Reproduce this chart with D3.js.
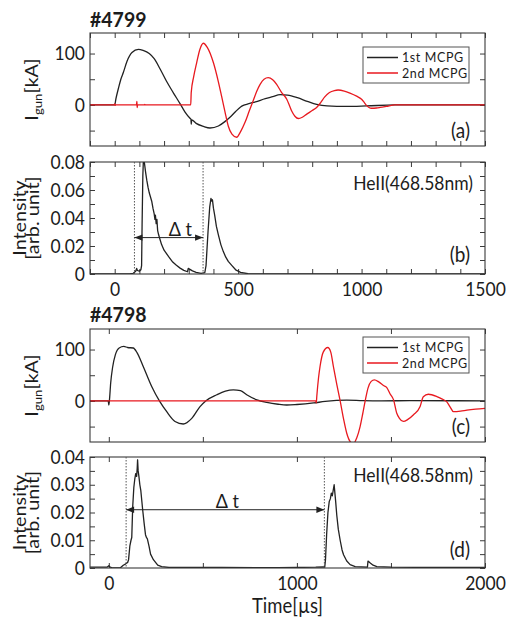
<!DOCTYPE html>
<html><head><meta charset="utf-8">
<script src="https://cdn.jsdelivr.net/npm/d3@7"></script>
<style>
body{margin:0;background:#fff}
svg{display:block}
text{font-family:Lato,"Open Sans",sans-serif;fill:#1c1c1c}
</style>
</head><body>
<svg id="chart" width="510" height="619"></svg>
<script>
// ---------------- data ----------------
const shotTitles = ["#4799", "#4798"];
const seriesNames = ["1st MCPG", "2nd MCPG"];
const lineLabel = "HeII(468.58nm)";
const panelLetters = ["(a)", "(b)", "(c)", "(d)"];
const xAxisTitle = "Time[\u00b5s]";

// #4799 gun current [kA] vs time [us]
const gun4799First = [[-100,0],[0,0],[5,12],[15,32],[25,50],[35,63],[50,85],[70,102],[96,108],[115,106],[140,100],[160,90],[184,70],[210,46],[237,24],[264,3],[285,-14],[305,-26],[309,-28],[310,-38],[312,-29],[330,-36],[360,-42],[386,-45],[420,-41],[445,-33],[467,-24],[490,-13],[510,-4],[521,-1],[540,2],[570,6],[610,12],[640,16],[670,20],[700,19],[740,14],[780,7],[818,1],[860,-2],[940,-3],[1020,-2],[1135,0],[1500,0]];
const gun4799Second = [[-100,0],[-2,0],[0,2],[2,-1],[4,0],[88,0],[90,7],[91,-5],[93,0],[120,0],[122,1],[124,0],[305,0],[308,0],[310,24],[320,55],[332,82],[345,108],[359,120],[375,112],[400,82],[420,45],[433,17],[447,-14],[460,-41],[475,-57],[494,-63],[510,-52],[528,-34],[545,-12],[561,8],[575,26],[589,40],[605,50],[622,53],[640,49],[656,40],[675,25],[697,11],[707,0],[717,-12],[730,-22],[744,-26.5],[760,-24],[778,-18],[800,-11],[818,-5],[835,5],[850,15],[870,24],[890,28],[905,29],[930,27],[953,23],[980,17],[1000,11],[1012,4],[1020,-1],[1030,-5],[1041,-6.5],[1060,-6],[1075,-5],[1100,-3],[1135,0],[1500,0]];
// #4799 HeII intensity
const heII4799 = [[-100,0],[60,0],[75,0.0005],[85,0.002],[89,0.004],[92,0.0025],[100,0.002],[106,0.003],[109,0.006],[111,0.035],[114,0.07],[117,0.085],[120,0.08],[125,0.073],[130,0.067],[135,0.062],[140,0.058],[145,0.055],[150,0.052],[155,0.047],[160,0.043],[163,0.039],[165,0.042],[168,0.036],[171,0.039],[174,0.031],[178,0.028],[183,0.025],[190,0.021],[200,0.017],[210,0.0145],[220,0.012],[235,0.0085],[250,0.0062],[265,0.0042],[280,0.0026],[295,0.0016],[298,0.004],[303,0.0035],[315,0.0022],[330,0.0012],[350,0.0005],[365,0.001],[370,0.006],[378,0.03],[385,0.048],[390,0.054],[393,0.052],[396,0.053],[400,0.047],[405,0.042],[412,0.034],[420,0.028],[430,0.021],[440,0.016],[450,0.012],[460,0.009],[475,0.006],[490,0.003],[510,0.0012],[540,0.0002],[600,0],[1500,0]];

// #4798 gun current
const gun4798First = [[-100,0],[-3,0],[0,-8],[3,0],[10,35],[20,65],[35,90],[55,103],[80,106],[100,104],[130,103],[150,94],[183,67],[228,28],[269,0],[308,-21],[352,-40],[396,-45],[441,-34],[485,-11],[515,0],[574,12],[620,19],[662,21.5],[700,20],[733,12],[787,2],[840,-3],[900,-6.5],[946,-8],[1000,-7],[1089,-4],[1150,-1],[1265,1.5],[1350,0.5],[1450,0],[1600,0.5],[2000,0]];
const gun4798Second = [[-100,0],[1100,0],[1103,-4],[1106,10],[1115,45],[1123,67],[1140,95],[1164,104],[1180,95],[1194,67],[1212,32],[1230,0],[1248,-35],[1265,-63],[1285,-80],[1301,-83],[1318,-72],[1336,-50],[1350,-25],[1363,0],[1378,25],[1395,38],[1412,41],[1435,37],[1460,30],[1478,26],[1495,14],[1514,2],[1531,-24],[1545,-34],[1566,-40],[1590,-36],[1620,-27],[1655,-11],[1672,8],[1699,13],[1744,8.5],[1770,4],[1797,-2],[1815,-12],[1832,-21],[1870,-20],[1904,-18],[1950,-16],[2000,-14.5]];
// #4798 HeII intensity
const heII4798 = [[-100,0.0003],[-10,0.0003],[0,0.0008],[5,0.0004],[20,0],[60,0],[77,0.001],[90,0.0015],[100,0.002],[105,0.003],[112,0.008],[118,0.01],[122,0.011],[127,0.022],[133,0.029],[138,0.032],[143,0.034],[148,0.033],[151,0.036],[153,0.039],[156,0.035],[160,0.033],[165,0.03],[170,0.028],[180,0.021],[188,0.016],[195,0.012],[200,0.011],[205,0.0105],[214,0.0078],[222,0.005],[237,0.003],[260,0.001],[281,0.0005],[320,0.0002],[600,0.0002],[900,0.0001],[1100,0.0003],[1140,0.0004],[1148,0.0003],[1152,0.003],[1158,0.012],[1165,0.02],[1172,0.024],[1178,0.025],[1183,0.027],[1188,0.026],[1193,0.028],[1198,0.030],[1202,0.027],[1206,0.024],[1212,0.019],[1220,0.014],[1230,0.010],[1240,0.0065],[1248,0.0048],[1265,0.0025],[1283,0.0012],[1310,0.0005],[1375,0.0003],[1378,0.0025],[1390,0.0018],[1405,0.001],[1425,0.0005],[1500,0.0003],[1700,0.0002],[2000,0.0002]];

// delay markers: [start, end], arrow height, label time
const delta4799 = [80, 358], deltaY4799 = 0.026, deltaLabelT4799 = 266;
const delta4798 = [92, 1146], deltaY4798 = 0.021, deltaLabelT4798 = 630;

// axes
const xDomain4799 = [-100, 1500], xDomain4798 = [-100, 2000];
const gunDomain = [-80, 140], intDomain4799 = [0, 0.08], intDomain4798 = [0, 0.04];
const xTicks4799 = d3.range(-100, 1501, 100);
const xLabels4799 = [0, 500, 1000, 1500];
const xTicks4798 = [0, 500, 1000, 1500, 2000];
const xLabels4798 = [0, 1000, 2000];
const gunTicks = [-50, 0, 50, 100];
const gunLabels = [0, 100];
const intTicks4799 = [0, 0.01, 0.02, 0.03, 0.04, 0.05, 0.06, 0.07, 0.08];
const intLabels4799 = [0, 0.02, 0.04, 0.06, 0.08];
const intTicks4798 = [0, 0.005, 0.01, 0.015, 0.02, 0.025, 0.03, 0.035, 0.04];
const intLabels4798 = [0, 0.01, 0.02, 0.03, 0.04];

// ---------------- drawing ----------------
const SY = 1.1;
const svg = d3.select("#chart");
const L = 90, R = 485;
const BLACK = "#222", RED = "#e8191f", AX = "#3a3a3a";

const defs = svg.append("defs");
defs.append("marker").attr("id", "ah").attr("viewBox", "0 0 10 10")
  .attr("refX", 10).attr("refY", 5).attr("markerWidth", 10).attr("markerHeight", 8)
  .attr("markerUnits", "userSpaceOnUse").attr("orient", "auto-start-reverse")
  .append("path").attr("d", "M0,1 L10,5 L0,9 Z").attr("fill", "#222");

function stretch(sel) {
  sel.each(function () {
    const t = d3.select(this);
    const x = +t.attr("x") || 0, y = +t.attr("y") || 0;
    t.attr("transform", `translate(${x},${y}) scale(1,${SY}) translate(${-x},${-y})`);
  });
}
function label(x, y, str, size, anchor, weight, sy) {
  return svg.append("text").attr("transform", `translate(${x},${y}) scale(1,${sy || SY})`)
    .attr("text-anchor", anchor || "start").attr("font-size", size)
    .attr("font-weight", weight || "normal").text(str);
}
const near = (arr, d) => arr.some(v => Math.abs(v - d) < 1e-9);
const fmtInt = d => d === 0 ? "0" : d3.format(".2f")(d);

let clipN = 0;
function panel(top, bottom, xDom, yDom, xT, xL, yT, yL, yFmt) {
  const w = R - L, h = bottom - top;
  const g = svg.append("g").attr("transform", `translate(${L},${top})`);
  const x = d3.scaleLinear().domain(xDom).range([0, w]);
  const y = d3.scaleLinear().domain(yDom).range([h, 0]);
  const id = "clip" + (clipN++);
  defs.append("clipPath").attr("id", id).append("rect").attr("width", w).attr("height", h);

  const axes = [
    g.append("g").call(d3.axisLeft(y).tickValues(yT).tickSize(-5).tickPadding(5)
      .tickFormat(d => near(yL, d) ? yFmt(d) : "")),
    g.append("g").attr("transform", `translate(${w},0)`).call(d3.axisRight(y).tickValues(yT).tickSize(-5).tickFormat("")),
    g.append("g").call(d3.axisTop(x).tickValues(xT).tickSize(-5).tickFormat("")),
    g.append("g").attr("transform", `translate(0,${h})`).call(d3.axisBottom(x).tickValues(xT).tickSize(-5).tickPadding(8)
      .tickFormat(d => xL && near(xL, d) ? String(d) : ""))
  ];
  axes.forEach(a => {
    a.select(".domain").remove();
    a.selectAll(".tick line").attr("stroke", AX).attr("stroke-width", 1);
    a.selectAll(".tick text").attr("font-size", 17.5).attr("fill", "#1c1c1c")
      .style("font-family", 'Lato,"Open Sans",sans-serif').call(stretch);
  });
  const plot = g.append("g").attr("clip-path", `url(#${id})`);
  g.append("rect").attr("width", w).attr("height", h).attr("fill", "none")
    .attr("stroke", AX).attr("stroke-width", 1.1);
  return { g, plot, x, y, w, h };
}

function curve(p, data, color, smooth) {
  const line = d3.line().x(d => p.x(d[0])).y(d => p.y(d[1]))
    .curve(smooth ? d3.curveMonotoneX : d3.curveLinear);
  p.plot.append("path").datum(data).attr("d", line).attr("fill", "none")
    .attr("stroke", color).attr("stroke-width", 1.3).attr("stroke-linejoin", "round");
}

function legend(bx, by) {
  svg.append("rect").attr("x", bx).attr("y", by).attr("width", 106).attr("height", 36)
    .attr("fill", "#fff").attr("stroke", "#555").attr("stroke-width", 1);
  [BLACK, RED].forEach((c, i) => {
    const yy = by + 10.5 + i * 15.5;
    svg.append("line").attr("x1", bx + 4).attr("x2", bx + 35).attr("y1", yy).attr("y2", yy)
      .attr("stroke", c).attr("stroke-width", 1.5);
    svg.append("text").attr("x", bx + 39).attr("y", yy + 4.5)
      .attr("font-size", 12.5).attr("letter-spacing", 0.6).text(seriesNames[i]);
  });
}

function delta(p, range, yv, labelT) {
  range.forEach(t => {
    p.g.append("line").attr("x1", p.x(t)).attr("x2", p.x(t)).attr("y1", 0).attr("y2", p.h)
      .attr("stroke", "#555").attr("stroke-width", 1).attr("stroke-dasharray", "1.5,1.5");
  });
  p.g.append("line").attr("x1", p.x(range[0])).attr("x2", p.x(range[1]))
    .attr("y1", p.y(yv)).attr("y2", p.y(yv)).attr("stroke", "#222").attr("stroke-width", 1)
    .attr("marker-start", "url(#ah)").attr("marker-end", "url(#ah)");
  p.g.append("text").attr("transform", `translate(${p.x(labelT)},${p.y(yv) - 1.5}) scale(1,${SY})`)
    .attr("text-anchor", "middle").attr("font-size", 18).text("\u0394 t");
}

function gunYLabel(midY) {
  const t = svg.append("text").attr("transform", `translate(38,${midY}) scale(1,${SY}) rotate(-90)`)
    .attr("text-anchor", "middle").attr("font-size", 18);
  t.append("tspan").text("I");
  t.append("tspan").attr("font-size", 12).attr("dy", 4).text("gun");
  t.append("tspan").attr("dy", -4).text("[kA]");
}
function intYLabel(midY) {
  [["Intensity", 26], ["[arb. unit]", 39]].forEach(([s, bx]) => {
    svg.append("text").attr("transform", `translate(${bx},${midY}) scale(1,${SY}) rotate(-90)`)
      .attr("text-anchor", "middle").attr("font-size", 18).text(s);
  });
}

// ---- shot #4799 ----
label(90, 26.5, shotTitles[0], 19.5, "start", "bold");
const pa = panel(33, 146, xDomain4799, gunDomain, xTicks4799, null, gunTicks, gunLabels, d => String(d));
curve(pa, gun4799First, BLACK, true);
curve(pa, gun4799Second, RED, true);
legend(363, 47);
label(470, 138, panelLetters[0], 19, "end");
gunYLabel((33 + 146) / 2);

const pb = panel(162, 274, xDomain4799, intDomain4799, xTicks4799, xLabels4799, intTicks4799, intLabels4799, fmtInt);
curve(pb, heII4799, BLACK, false);
delta(pb, delta4799, deltaY4799, deltaLabelT4799);
label(473, 189.5, lineLabel, 17.5, "end");
label(470, 262, panelLetters[1], 19, "end");
intYLabel((162 + 274) / 2);

// ---- shot #4798 ----
label(90, 321.5, shotTitles[1], 19.5, "start", "bold");
const pc = panel(329, 442, xDomain4798, gunDomain, xTicks4798, null, gunTicks, gunLabels, d => String(d));
curve(pc, gun4798First, BLACK, true);
curve(pc, gun4798Second, RED, true);
legend(363, 337);
label(470, 434, panelLetters[2], 19, "end");
gunYLabel((329 + 442) / 2);

const pd = panel(457, 568, xDomain4798, intDomain4798, xTicks4798, xLabels4798, intTicks4798, intLabels4798, fmtInt);
curve(pd, heII4798, BLACK, false);
delta(pd, delta4798, deltaY4798, deltaLabelT4798);
label(473, 481.5, lineLabel, 17.5, "end");
label(470, 557, panelLetters[3], 19, "end");
intYLabel((457 + 568) / 2);

label((L + R) / 2, 613, xAxisTitle, 18.5, "middle");
</script>
</body></html>
